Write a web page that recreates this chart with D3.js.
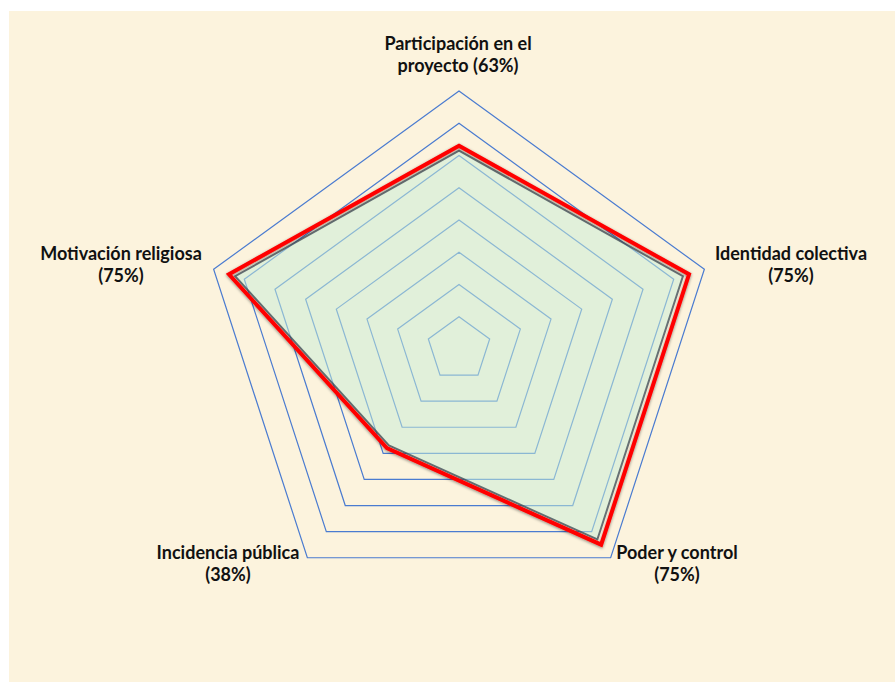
<!DOCTYPE html>
<html>
<head>
<meta charset="utf-8">
<script src="https://cdn.jsdelivr.net/npm/d3@7"></script>
<style>
  body { margin: 0; background: #ffffff; }
  svg { display: block; }
</style>
</head>
<body>
<script>
var width = 895;
var height = 682;

// ejes en sentido horario empezando arriba
var axes = ['Participación en el proyecto', 'Identidad colectiva', 'Poder y control', 'Incidencia pública', 'Motivación religiosa'];
var labelLines = [
    ['Participación en el', 'proyecto (63%)'],
    ['Identidad colectiva', '(75%)'],
    ['Poder y control', '(75%)'],
    ['Incidencia pública', '(38%)'],
    ['Motivación religiosa', '(75%)']
];
var values = [63, 75, 75, 38, 75];       // serie en rojo
var fillValues = [61.5, 73, 73, 37, 73]; // área verde con borde oscuro
var gridLevels = [10, 20, 30, 40, 50, 60, 70, 80];
var maxValue = 80;

var cx = 459, cy = 349, radius = 258;

var r = d3.scaleLinear().domain([0, maxValue]).range([0, radius]);
var angle = d3.scalePoint().domain(d3.range(axes.length + 1)).range([0, 2 * Math.PI]);

function pt(i, v) {
    var a = angle(i);
    return [cx + r(v) * Math.sin(a), cy - r(v) * Math.cos(a)];
}

var radarLine = d3.line()
    .x(function (d) { return d[0]; })
    .y(function (d) { return d[1]; })
    .curve(d3.curveLinearClosed);

var svg = d3.select('body').append('svg')
    .attr('width', width)
    .attr('height', height);

var defs = svg.append('defs');
var shadow = defs.append('filter').attr('id', 'shadow')
    .attr('x', '-20%').attr('y', '-20%').attr('width', '140%').attr('height', '140%');
shadow.append('feDropShadow')
    .attr('dx', 0).attr('dy', 1)
    .attr('stdDeviation', 1.6)
    .attr('flood-color', '#000')
    .attr('flood-opacity', 0.45);

svg.append('rect')
    .attr('x', 9).attr('y', 11)
    .attr('width', width - 9).attr('height', height - 11)
    .attr('fill', '#fcf3dd');

// anillos de la rejilla
svg.append('g').attr('class', 'grid')
    .selectAll('path')
    .data(gridLevels)
    .enter().append('path')
    .attr('d', function (lv) { return radarLine(axes.map(function (_, i) { return pt(i, lv); })); })
    .attr('fill', 'none')
    .attr('stroke', '#4a7bd0')
    .attr('stroke-width', 1.2);

// área rellena
svg.append('path')
    .attr('d', radarLine(fillValues.map(function (v, i) { return pt(i, v); })))
    .attr('fill', 'rgb(200,237,215)')
    .attr('fill-opacity', 0.52)
    .attr('stroke', '#45505a')
    .attr('stroke-opacity', 0.8)
    .attr('stroke-width', 2)
    .attr('stroke-linejoin', 'miter');

// línea roja
svg.append('path')
    .attr('d', radarLine(values.map(function (v, i) { return pt(i, v); })))
    .attr('fill', 'none')
    .attr('stroke', '#ff0000')
    .attr('stroke-width', 4)
    .attr('stroke-linejoin', 'miter')
    .attr('filter', 'url(#shadow)');

// etiquetas (posición del primer renglón)
var labelPos = [
    [458, 50],
    [791, 260],
    [677, 559],
    [228, 559],
    [121, 260]
];

var labels = svg.append('g').attr('class', 'labels')
    .selectAll('text')
    .data(labelLines)
    .enter().append('text')
    .attr('x', function (d, i) { return labelPos[i][0]; })
    .attr('y', function (d, i) { return labelPos[i][1]; })
    .attr('text-anchor', 'middle')
    .style('font-family', 'Lato, "Open Sans", sans-serif')
    .style('font-weight', 'bold')
    .style('font-size', '18px')
    .style('fill', '#111');

labels.selectAll('tspan')
    .data(function (d, i) { return d.map(function (t) { return { t: t, i: i }; }); })
    .enter().append('tspan')
    .attr('x', function (d) { return labelPos[d.i][0]; })
    .attr('dy', function (d, j) { return j === 0 ? 0 : 22; })
    .text(function (d) { return d.t; });
</script>
</body>
</html>
